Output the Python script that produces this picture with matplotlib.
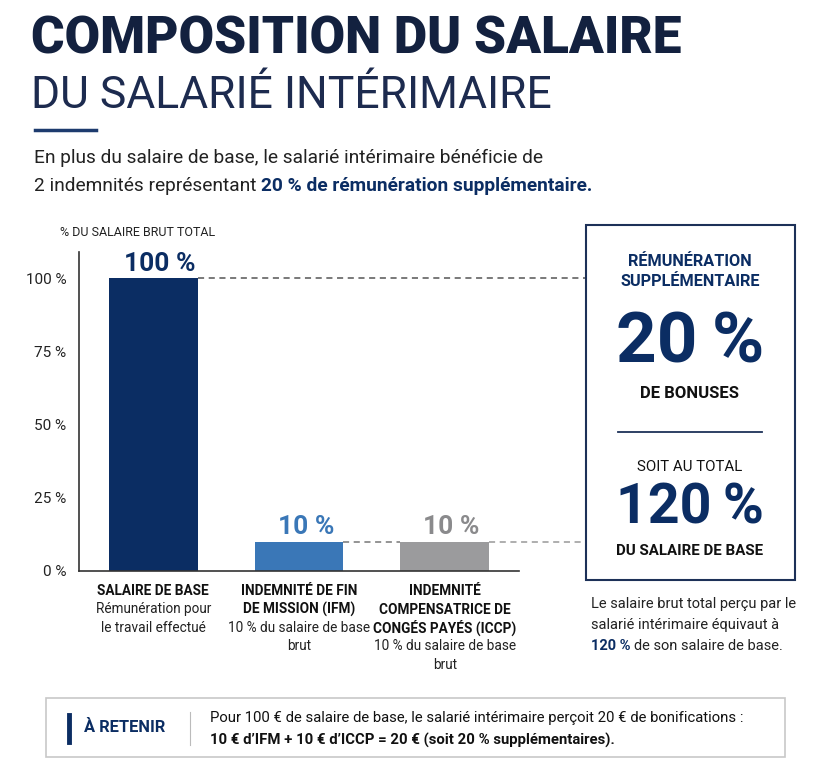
import matplotlib

matplotlib.use("Agg")

import matplotlib.pyplot as plt
from matplotlib.patches import Rectangle
from matplotlib.lines import Line2D

W, H = 833, 768

# data
categories = [["SALAIRE DE BASE"],
              ["INDEMNITÉ DE FIN", "DE MISSION (IFM)"],
              ["INDEMNITÉ", "COMPENSATRICE DE", "CONGÉS PAYÉS (ICCP)"]]
descriptions = [["Rémunération pour", "le travail effectué"],
                ["10 % du salaire de base", "brut"],
                ["10 % du salaire de base", "brut"]]
values = [100, 10, 10]
value_labels = ["100 %", "10 %", "10 %"]
yticks = [0, 25, 50, 75, 100]
ytick_labels = ["0 %", "25 %", "50 %", "75 %", "100 %"]

NAVY = "#0b2d63"
DARK = "#16213d"
BAR_COLORS = ["#0b2d63", "#3a77b7", "#9b9b9d"]
LABEL_COLORS = ["#0b2d63", "#3a77b7", "#8a8a8c"]

plt.rcParams.update({
    "font.family": ["Roboto", "DejaVu Sans"],
    "text.color": DARK,
})

fig = plt.figure(figsize=(W / 100, H / 100), dpi=100)
fig.patch.set_facecolor("white")


def fx(x):
    return x / W


def fy(y):
    return 1 - y / H


def txt(x, y, s, **kw):
    kw.setdefault("va", "center")
    return fig.text(fx(x), fy(y), s, **kw)


# ---- header
txt(31, 39, "COMPOSITION DU SALAIRE", fontsize=37, fontweight="black",
    color="#13213f")
txt(31, 96, "DU SALARIÉ INTÉRIMAIRE", fontsize=32, fontweight="normal",
    color="#1d2b4f")
fig.add_artist(Line2D([fx(35), fx(96)], [fy(130), fy(130)], color="#1d3b6e", lw=2.5))

txt(34, 158, "En plus du salaire de base, le salarié intérimaire bénéficie de",
    fontsize=13.8, color="#222")
t1 = txt(34, 186, "2 indemnités représentant ", fontsize=13.8, color="#222")
renderer = fig.canvas.get_renderer()
bb = t1.get_window_extent(renderer)
fig.text(bb.x1 / W, fy(186), "20 % de rémunération supplémentaire.", fontsize=13.8,
         fontweight="bold", color=NAVY, va="center")

# ---- bar chart
ax = fig.add_axes([fx(79), fy(571), (519 - 79) / W, (571 - 252) / H])
x = list(range(len(values)))
ax.bar(x, values, width=0.61, color=BAR_COLORS, zorder=2)
ax.set_xlim(-0.51, 2.51)
ax.set_ylim(0, 109)
ax.set_yticks(yticks)
ax.set_yticklabels(ytick_labels, fontsize=11, color="#222")
ax.tick_params(axis="y", length=0, pad=9)
ax.tick_params(axis="x", length=0, labelbottom=False)
for s in ["top", "right"]:
    ax.spines[s].set_visible(False)
for s in ["left", "bottom"]:
    ax.spines[s].set_color("#333")
    ax.spines[s].set_linewidth(1.2)

for xi, v, lab, c in zip(x, values, value_labels, LABEL_COLORS):
    ax.annotate(lab, (xi, v), xytext=(5, 2), textcoords="offset points",
                ha="center", va="bottom", fontsize=19, fontweight="bold", color=c)

# dashed guides towards the summary box
box_x = 2.967
ax.plot([0.305, box_x], [values[0]] * 2, ls=(0, (4, 3)), color="#555", lw=1.1,
        clip_on=False)
ax.plot([1.305, 1.695], [values[1]] * 2, ls=(0, (4, 3)), color="#777", lw=1.1,
        clip_on=False)
ax.plot([2.305, box_x], [values[2]] * 2, ls=(0, (4, 3)), color="#999", lw=1.1,
        clip_on=False)

txt(60, 232, "% DU SALAIRE BRUT TOTAL", fontsize=9, color="#222")

# category labels, one line at a time
for xi, cat, desc in zip(x, categories, descriptions):
    px = fx(79) + (xi + 0.51) / 3.02 * (440 / W)
    y = 591
    for line in cat:
        fig.text(px, fy(y), line, ha="center", va="center", fontsize=9.8,
                 fontweight="bold", color="#111")
        y += 18.5
    for line in desc:
        fig.text(px, fy(y), line, ha="center", va="center", fontsize=9.8,
                 color="#222")
        y += 18.5

# ---- summary box
fig.add_artist(Rectangle((fx(586), fy(580)), (795 - 586) / W, (580 - 225) / H,
                         fill=False, ec="#1d3158", lw=1.5))
cx = 690
txt(cx, 262, "RÉMUNÉRATION", ha="center", fontsize=11.7, fontweight="bold", color=NAVY)
txt(cx, 282, "SUPPLÉMENTAIRE", ha="center", fontsize=11.7, fontweight="bold", color=NAVY)
txt(cx, 343, "20\u2009%", ha="center", fontsize=51, fontweight="bold", color=NAVY)
txt(cx, 394, "DE BONUSES", ha="center", fontsize=12, fontweight="bold", color="#111")
fig.add_artist(Line2D([fx(618), fx(762)], [fy(432), fy(432)], color="#1d3158", lw=1.3))
txt(cx, 467, "SOIT AU TOTAL", ha="center", fontsize=10.8, color="#111")
txt(cx, 509, "120\u2009%", ha="center", fontsize=40, fontweight="bold", color=NAVY)
txt(cx, 551, "DU SALAIRE DE BASE", ha="center", fontsize=10.8, fontweight="bold",
    color="#111")

txt(591, 604, "Le salaire brut total perçu par le", fontsize=10.5, color="#222")
txt(591, 625, "salarié intérimaire équivaut à", fontsize=10.5, color="#222")
t2 = txt(591, 646, "120 % ", fontsize=10.5, fontweight="bold", color=NAVY)
bb = t2.get_window_extent(renderer)
fig.text(bb.x1 / W, fy(646), "de son salaire de base.", fontsize=10.5,
         color="#222", va="center")

# ---- bottom note
fig.add_artist(Rectangle((fx(46), fy(757)), (785 - 46) / W, (757 - 698) / H,
                         fill=False, ec="#c8c8c8", lw=1.2))
fig.add_artist(Line2D([fx(69), fx(69)], [fy(715), fy(742)], color=NAVY, lw=3.5))
txt(84, 728, "À RETENIR", fontsize=11.9, fontweight="bold", color=NAVY)
fig.add_artist(Line2D([fx(190), fx(190)], [fy(712), fy(745)], color="#bbb", lw=0.8))
txt(210, 718, "Pour 100 € de salaire de base, le salarié intérimaire perçoit 20 € de bonifications :",
    fontsize=10.7, color="#111")
txt(210, 740, "10 € d’IFM + 10 € d’ICCP = 20 € (soit 20 % supplémentaires).",
    fontsize=10.7, fontweight="bold", color="#111")

fig.savefig("out.png", dpi=100)
